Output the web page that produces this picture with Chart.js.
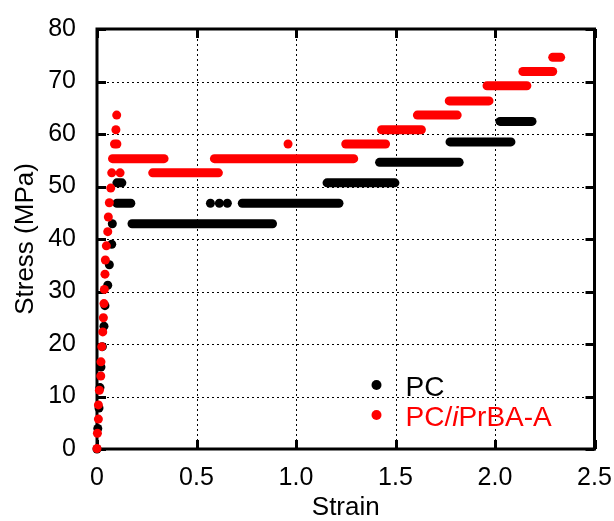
<!DOCTYPE html>
<html>
<head>
<meta charset="utf-8">
<script src="https://cdn.jsdelivr.net/npm/chart.js@4.4.0/dist/chart.umd.min.js"></script>
<style>
  html, body { margin: 0; padding: 0; background: #fff; }
</style>
</head>
<body>
<canvas id="chart" width="614" height="521"></canvas>
<script>
// PC: single readings on the elastic ramp and a few loose ones
const pcStrain = [0, 0.004, 0.01, 0.015, 0.02, 0.027, 0.035, 0.04, 0.054, 0.062, 0.074, 0.077, 0.57, 0.615, 0.655];
const pcStress = [0, 3.9, 7.8, 11.7, 15.6, 19.5, 23.4, 27.3, 31.2, 35.1, 39.0, 42.9, 46.8, 46.8, 46.8];
// PC plateaus: stress level, first strain, last strain
const pcStepStress = [42.9, 46.8, 46.8, 50.7, 50.7, 54.6, 58.5, 62.4];
const pcStepStart  = [0.176, 0.1, 0.73, 0.1, 1.156, 1.42, 1.774, 2.025];
const pcStepEnd    = [0.882, 0.17, 1.216, 0.125, 1.497, 1.82, 2.08, 2.186];

// PC/iPrBA-A
const prStrain = [0, 0.002, 0.007, 0.007, 0.012, 0.019, 0.02, 0.024, 0.029, 0.032, 0.035, 0.037, 0.04, 0.042, 0.047, 0.054, 0.057, 0.062, 0.069, 0.074, 0.116, 0.088, 0.1, 0.095, 0.099, 0.96];
const prStress = [0.1, 3.0, 5.7, 8.4, 11.2, 13.9, 16.6, 19.5, 22.3, 25.0, 27.7, 30.4, 33.3, 36.0, 38.7, 41.4, 44.2, 46.9, 49.7, 52.6, 52.6, 58.1, 58.1, 60.8, 63.6, 58.1];
const prStepStress = [52.6, 55.3, 55.3, 58.1, 60.8, 63.6, 66.3, 69.2, 71.9, 74.6];
const prStepStart  = [0.28, 0.078, 0.59, 1.25, 1.43, 1.61, 1.77, 1.96, 2.14, 2.29];
const prStepEnd    = [0.61, 0.337, 1.29, 1.45, 1.63, 1.81, 1.97, 2.16, 2.29, 2.33];

const xTicks = [0, 0.5, 1.0, 1.5, 2.0, 2.5];

const FONT = 'Liberation Sans, Arial, sans-serif';
const DOT = 4.5;

function dots(xs, ys) {
  return xs.map((x, i) => ({ x: x, y: ys[i] }));
}

// one thick round-capped stroke per plateau, looks like a row of dense dots
function plateaus(levels, starts, ends, color, order) {
  return levels.map((s, i) => ({
    label: '',
    data: [{ x: starts[i], y: s }, { x: ends[i], y: s }],
    showLine: true,
    borderColor: color,
    borderWidth: DOT * 2,
    borderCapStyle: 'round',
    pointRadius: 0,
    clip: false,
    order: order
  }));
}

const datasets = [
  {
    label: 'PC',
    data: dots(pcStrain, pcStress),
    backgroundColor: '#000',
    borderColor: '#000',
    pointRadius: DOT,
    pointBorderWidth: 0,
    clip: false,
    order: 1
  },
  ...plateaus(pcStepStress, pcStepStart, pcStepEnd, '#000', 1),
  {
    label: 'PC/iPrBA-A',
    data: dots(prStrain, prStress),
    backgroundColor: '#ff0000',
    borderColor: '#ff0000',
    pointRadius: DOT,
    pointBorderWidth: 0,
    clip: false,
    order: 0
  },
  ...plateaus(prStepStress, prStepStart, prStepEnd, '#ff0000', 0)
];

// dotted grid, heavy frame and inward tick marks, all under the data
const framePlugin = {
  id: 'frame',
  beforeDatasetsDraw(chart) {
    const { ctx, chartArea: a, scales } = chart;
    const ys = scales.y.ticks.map(t => Math.round(scales.y.getPixelForValue(t.value)) + 0.5);
    const xs = scales.x.ticks.map(t => Math.round(scales.x.getPixelForValue(t.value)) + 0.5);
    ctx.save();
    ctx.strokeStyle = '#000';
    ctx.lineWidth = 1;
    ctx.setLineDash([2, 3]);
    ctx.beginPath();
    ys.forEach(py => { ctx.moveTo(a.left, py); ctx.lineTo(a.right, py); });
    xs.forEach(px => { ctx.moveTo(px, a.top); ctx.lineTo(px, a.bottom); });
    ctx.stroke();
    ctx.setLineDash([]);

    ctx.lineWidth = 3;
    ctx.strokeRect(a.left, a.top, a.right - a.left, a.bottom - a.top);
    const len = 9;
    ctx.beginPath();
    ys.forEach(py => {
      ctx.moveTo(a.left, py); ctx.lineTo(a.left + len, py);
      ctx.moveTo(a.right, py); ctx.lineTo(a.right - len, py);
    });
    xs.forEach(px => {
      ctx.moveTo(px, a.bottom); ctx.lineTo(px, a.bottom - len);
      ctx.moveTo(px, a.top); ctx.lineTo(px, a.top + len);
    });
    ctx.stroke();
    ctx.restore();
  }
};

// key in the lower right corner, text coloured like the series
const keyPlugin = {
  id: 'key',
  afterDraw(chart) {
    const { ctx, chartArea: a } = chart;
    const x0 = a.right - 218;
    const rows = [
      { color: '#000', y: 385, parts: [['PC', '']] },
      { color: '#ff0000', y: 415, parts: [['PC/', ''], ['i', 'italic '], ['PrBA-A', '']] }
    ];
    ctx.save();
    rows.forEach(r => {
      ctx.fillStyle = r.color;
      ctx.beginPath();
      ctx.arc(x0, r.y, 5, 0, Math.PI * 2);
      ctx.fill();
      let tx = x0 + 29;
      ctx.textBaseline = 'alphabetic';
      r.parts.forEach(([txt, style]) => {
        ctx.font = style + '28px ' + FONT;
        ctx.fillText(txt, tx, r.y + 11);
        tx += ctx.measureText(txt).width;
      });
    });
    ctx.restore();
  }
};

new Chart(document.getElementById('chart'), {
  type: 'scatter',
  data: { datasets: datasets },
  options: {
    responsive: false,
    animation: false,
    layout: { padding: { top: 29, right: 19.5, left: 0, bottom: 0 } },
    plugins: {
      legend: { display: false },
      tooltip: { enabled: false }
    },
    scales: {
      x: {
        type: 'linear',
        min: 0,
        max: 2.5,
        afterFit(scale) {
          scale.height = 72;
          scale.paddingLeft = 0;
          scale.paddingRight = 0;
        },
        afterBuildTicks(scale) { scale.ticks = xTicks.map(v => ({ value: v })); },
        grid: { display: false },
        border: { display: false },
        ticks: {
          autoSkip: false,
          maxRotation: 0,
          padding: 6,
          color: '#000',
          font: { family: FONT, size: 25 },
          callback: v => v === 0 ? '0' : v.toFixed(1)
        },
        title: {
          display: true,
          text: 'Strain',
          color: '#000',
          font: { family: FONT, size: 26, lineHeight: 1 },
          padding: 0
        }
      },
      y: {
        min: 0,
        max: 80,
        afterFit(scale) {
          scale.width = 97;
          scale.paddingTop = 0;
          scale.paddingBottom = 0;
        },
        grid: { display: false },
        border: { display: false },
        ticks: {
          stepSize: 10,
          padding: 13,
          color: '#000',
          font: { family: FONT, size: 25 }
        },
        title: {
          display: true,
          text: 'Stress (MPa)',
          color: '#000',
          font: { family: FONT, size: 26, lineHeight: 1 },
          padding: { top: 13, bottom: 0 }
        }
      }
    }
  },
  plugins: [framePlugin, keyPlugin]
});
</script>
</body>
</html>
